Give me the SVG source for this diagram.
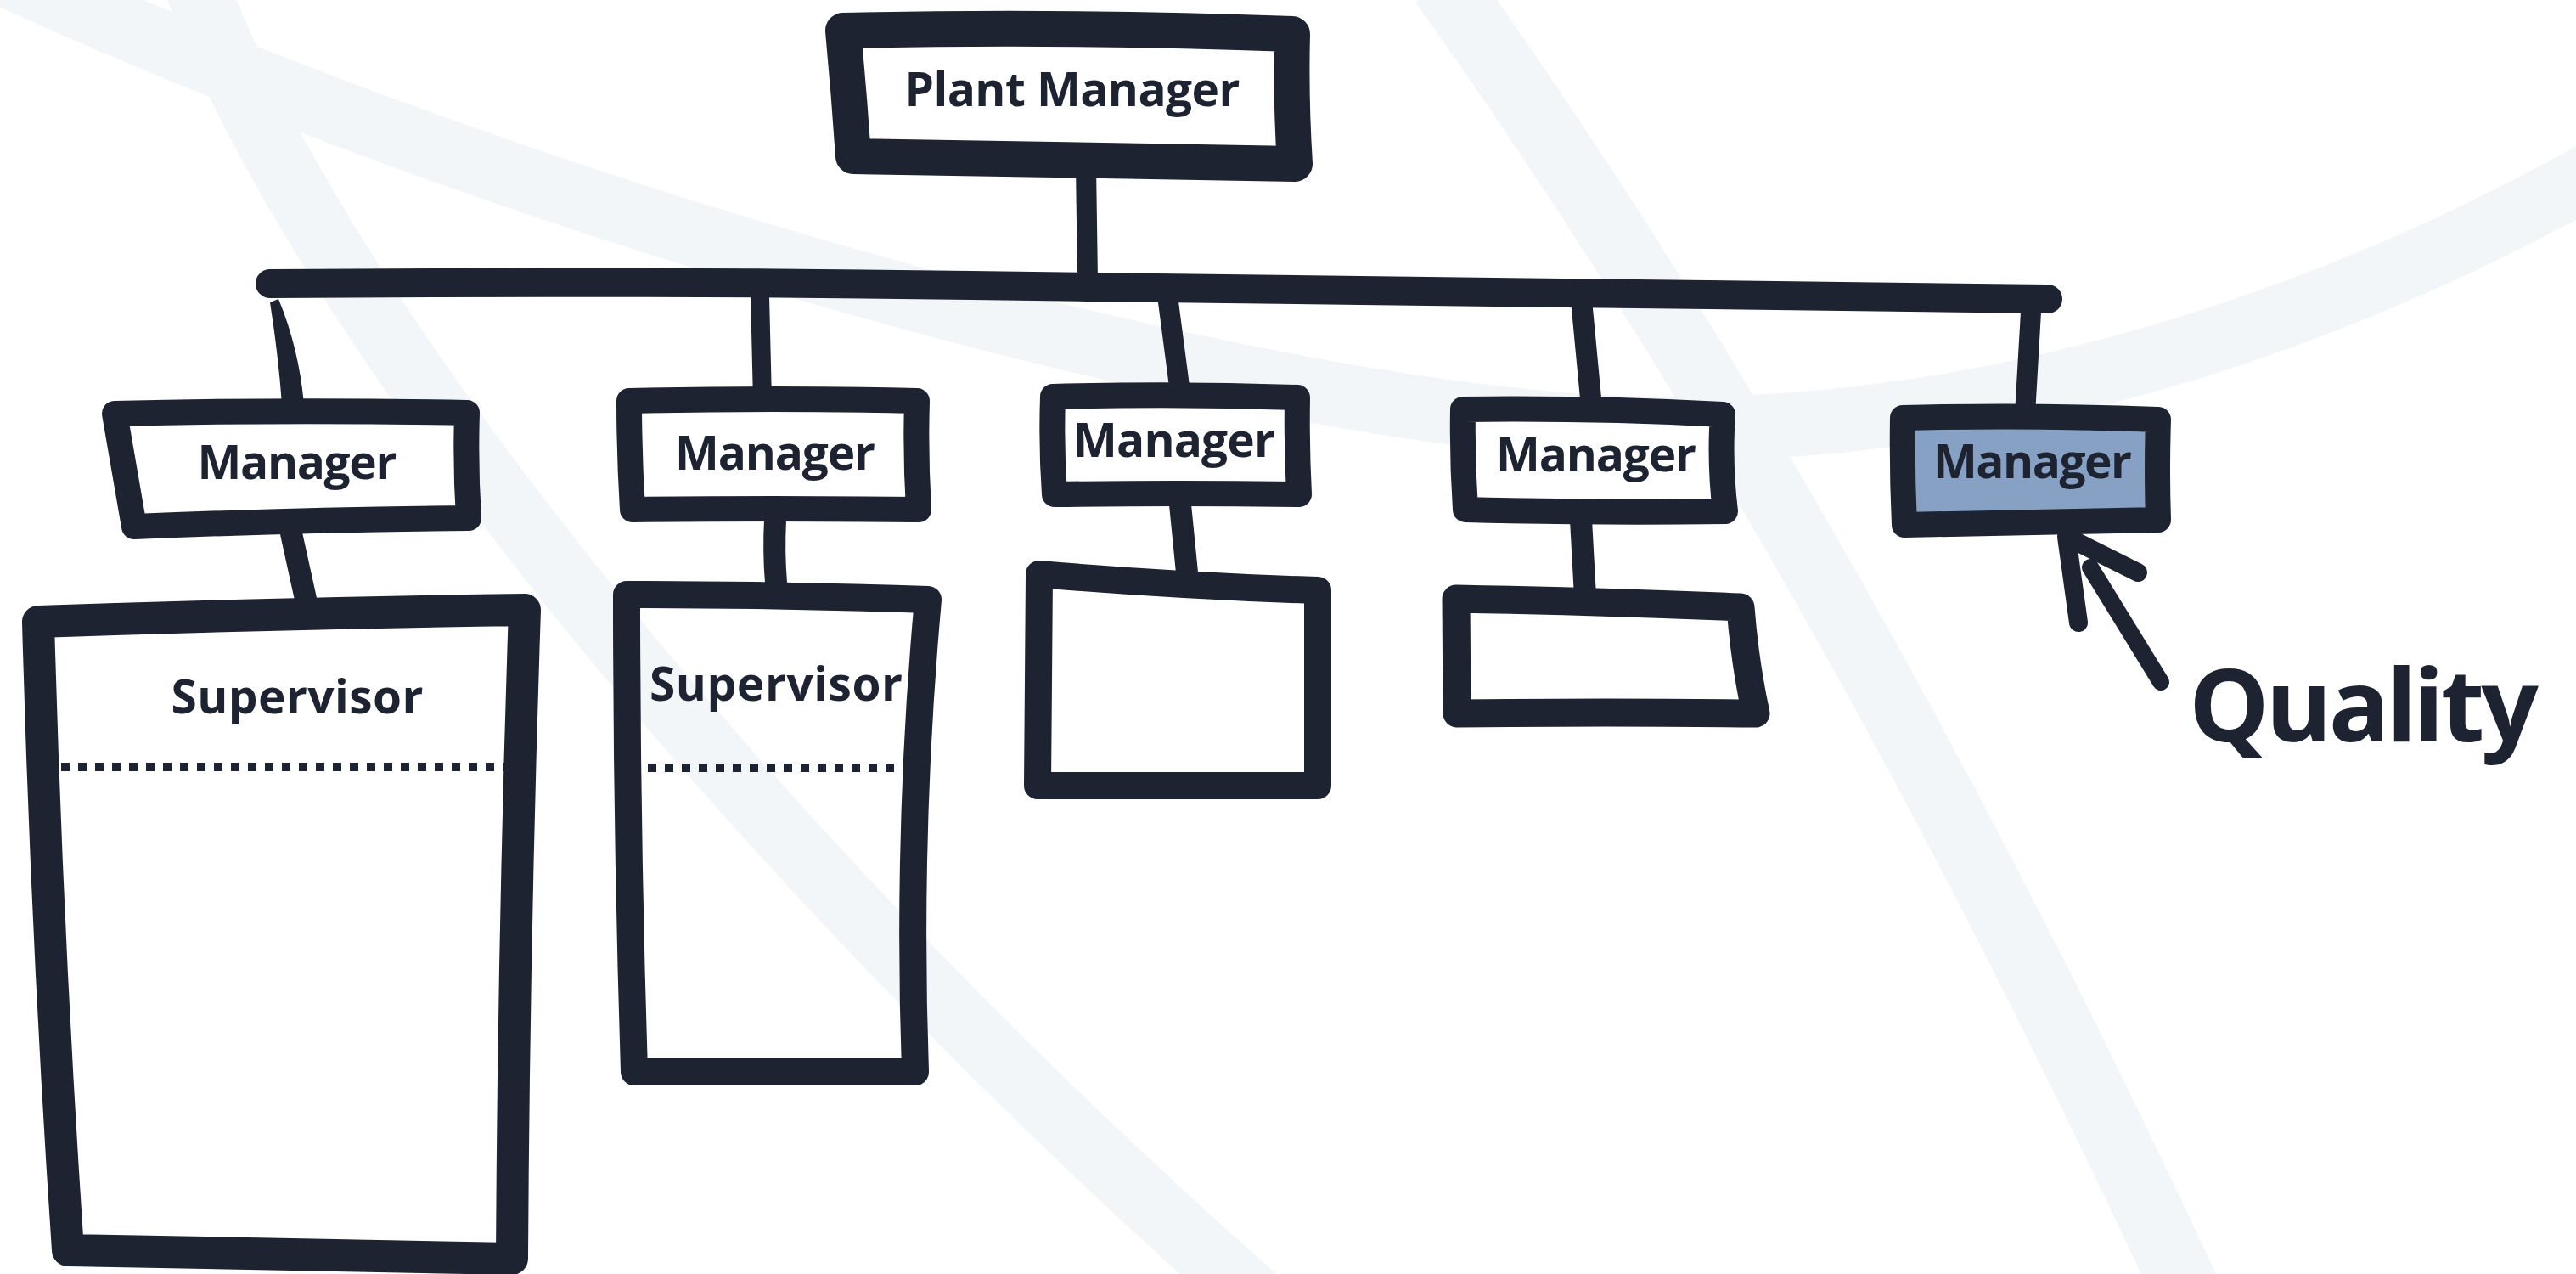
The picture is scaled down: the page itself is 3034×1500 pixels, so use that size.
<svg xmlns="http://www.w3.org/2000/svg" width="3034" height="1500" viewBox="0 0 3034 1500">
<style>
.bg{fill:none;stroke:#f3f6f9;stroke-linecap:butt}
.box{fill:#ffffff;stroke:#1e2332;stroke-linejoin:round;stroke-linecap:round}
.open{fill:none;stroke:#1e2332;stroke-linejoin:round;stroke-linecap:round}
.ln{fill:none;stroke:#1e2332;stroke-linecap:round;stroke-linejoin:round}
.lbl{font-family:"Open Sans","Liberation Sans",sans-serif;font-weight:700;fill:#1e2332;text-anchor:middle}
.dots{fill:none;stroke:#1e2332;stroke-width:10;stroke-dasharray:10 10}
</style>
<rect width="3034" height="1500" fill="#ffffff"/>
<g id="background">
<path class="bg" stroke-width="76" d="M-40,-52 C600,250 1500,500 1950,505 C2400,510 2800,350 3080,190"/>
<path class="bg" stroke-width="76" d="M230,-20 C380,380 880,1000 1480,1530"/>
<path class="bg" stroke-width="80" d="M1700,-20 C1950,330 2250,820 2580,1530"/>
</g>
<g id="connectors">
<path class="ln" stroke-width="34" d="M318,334 Q800,330 1280,338 Q1850,344 2412,352"/>
<path class="ln" stroke-width="24" d="M1279,195 L1281,330"/>
<path fill="#1e2332" d="M318,356 L328,352 Q352,410 358,476 L332,476 Q328,420 318,356 Z"/>
<path class="ln" stroke-width="22" d="M895,348 L898,472"/>
<path class="ln" stroke-width="24" d="M1375,348 L1391,470"/>
<path class="ln" stroke-width="25" d="M1862,348 L1874,474"/>
<path class="ln" stroke-width="24" d="M2393,350 L2385,488"/>
<path class="ln" stroke-width="26" d="M343,628 L365,728"/>
<path class="ln" stroke-width="26" d="M913,612 Q911,650 914,686"/>
<path class="ln" stroke-width="26" d="M1390,594 L1399,684"/>
<path class="ln" stroke-width="26" d="M1862,612 L1867,702"/>
</g>
<g id="plant-manager">
<path class="box" stroke-width="42" d="M993,36 Q1250,30 1522,40 Q1520,115 1525,193 Q1260,188 1005,184 Q1000,110 993,36 Z"/>
<text class="lbl" x="1263" y="125" font-size="55" textLength="395">Plant Manager</text>
</g>
<g id="manager-1">
<path class="box" stroke-width="30" d="M135,487 Q340,482 550,486 Q548,550 552,610 Q350,612 158,620 Q146,550 135,487 Z"/>
<text class="lbl" x="350" y="564" font-size="55" textLength="235">Manager</text>
</g>
<g id="manager-2">
<path class="box" stroke-width="30" d="M741,472 Q910,468 1080,472 Q1078,535 1082,600 Q910,598 745,600 Q741,535 741,472 Z"/>
<text class="lbl" x="913" y="553" font-size="55" textLength="236">Manager</text>
</g>
<g id="manager-3">
<path class="box" stroke-width="30" d="M1240,467 Q1385,463 1528,468 Q1527,525 1530,582 Q1385,580 1242,582 Q1238,525 1240,467 Z"/>
<text class="lbl" x="1383" y="538" font-size="55" textLength="238">Manager</text>
</g>
<g id="manager-4">
<path class="box" stroke-width="30" d="M1723,482 Q1875,480 2029,488 Q2025,545 2032,602 Q1875,604 1726,600 Q1722,540 1723,482 Z"/>
<text class="lbl" x="1880" y="555" font-size="55" textLength="236">Manager</text>
</g>
<g id="manager-5-quality">
<path class="box" style="fill:#87a1c5" stroke-width="30" d="M2241,492 Q2390,488 2542,494 Q2540,555 2542,612 Q2390,615 2243,618 Q2240,555 2241,492 Z"/>
<text class="lbl" x="2394" y="563" font-size="55" textLength="234">Manager</text>
</g>
<g id="supervisor-1">
<path class="open" stroke-width="38" d="M45,732 Q330,722 618,718 Q605,1100 603,1482 Q340,1478 80,1472 Q55,1100 45,732 Z"/>
<text class="lbl" x="350" y="840" font-size="55" textLength="297">Supervisor</text>
<line class="dots" x1="72" y1="903" x2="600" y2="903"/>
</g>
<g id="supervisor-2">
<path class="open" stroke-width="32" d="M738,700 Q915,700 1093,706 Q1068,980 1078,1262 Q912,1262 747,1262 Q738,980 738,700 Z"/>
<text class="lbl" x="914" y="825" font-size="55" textLength="298">Supervisor</text>
<line class="dots" x1="763" y1="904" x2="1058" y2="904"/>
</g>
<g id="box-3">
<path class="open" stroke-width="32" d="M1224,676 Q1390,690 1552,695 L1552,925 Q1390,925 1222,925 Z"/>
</g>
<g id="box-4">
<path class="open" stroke-width="33" d="M1715,705 Q1880,708 2050,715 Q2055,780 2068,840 Q1890,838 1716,840 Z"/>
</g>
<g id="quality-annotation">
<path class="ln" stroke-width="22" d="M2448,733 L2434,632 L2518,674"/>
<path class="ln" stroke-width="20" d="M2462,668 L2545,803"/>
<text class="lbl" x="2784" y="873" font-size="119" textLength="412">Quality</text>
</g>
</svg>
